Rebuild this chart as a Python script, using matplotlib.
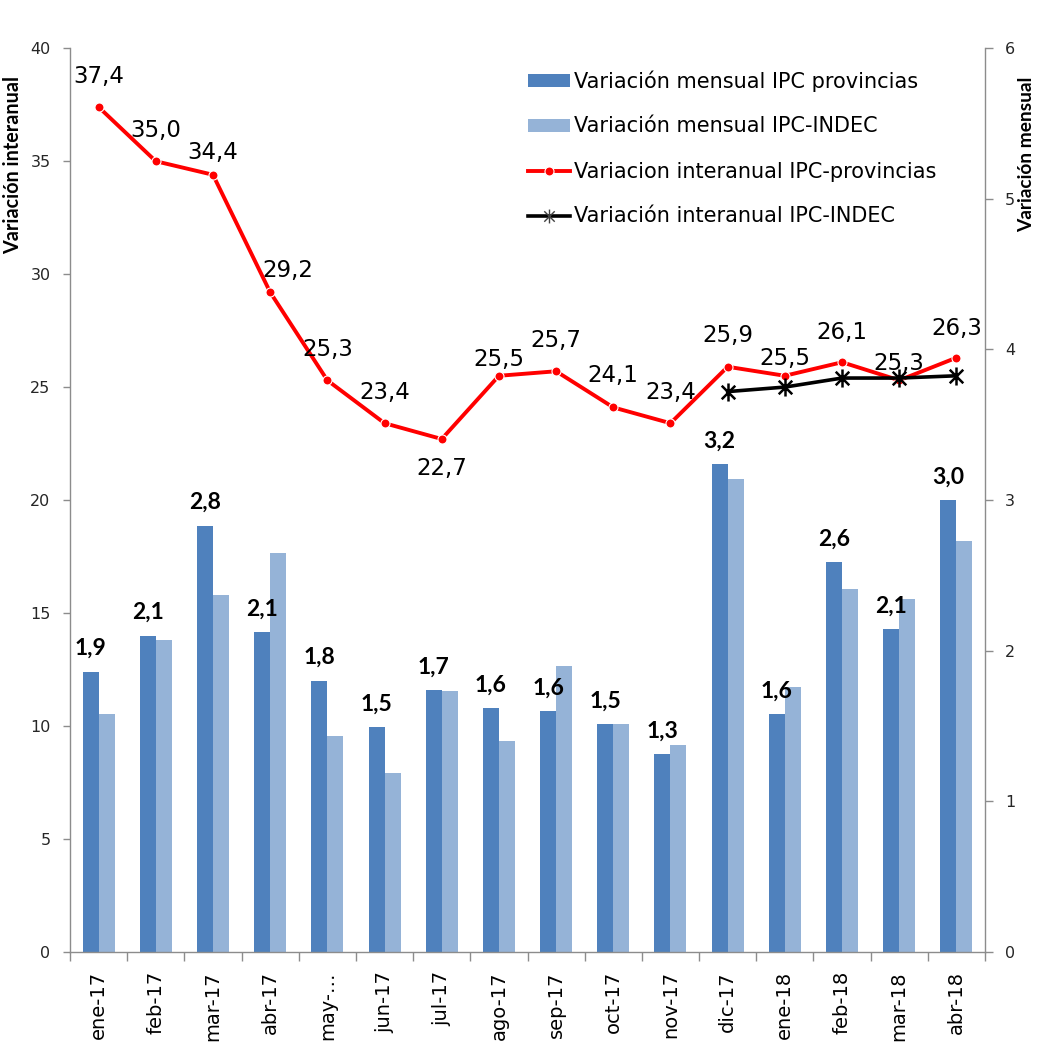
import matplotlib
matplotlib.use("Agg")
import matplotlib.pyplot as plt
from matplotlib.path import Path
from matplotlib.lines import Line2D
from matplotlib.patches import Patch
import numpy as np

plt.rcParams['font.family'] = ['DejaVu Sans']

# --- data -------------------------------------------------------------
months = ["ene-17", "feb-17", "mar-17", "abr-17", "may-…", "jun-17", "jul-17",
          "ago-17", "sep-17", "oct-17", "nov-17", "dic-17", "ene-18", "feb-18",
          "mar-18", "abr-18"]

# monthly variation (right axis, %)
mensual_prov = [1.86, 2.10, 2.83, 2.12, 1.80, 1.49, 1.74, 1.62, 1.60, 1.51,
                1.31, 3.24, 1.58, 2.59, 2.14, 3.00]
mensual_indec = [1.58, 2.07, 2.37, 2.65, 1.43, 1.19, 1.73, 1.40, 1.90, 1.51,
                 1.37, 3.14, 1.76, 2.41, 2.34, 2.73]

# year-on-year variation (left axis, %)
interanual_prov = [37.4, 35.0, 34.4, 29.2, 25.3, 23.4, 22.7, 25.5, 25.7, 24.1,
                   23.4, 25.9, 25.5, 26.1, 25.3, 26.3]
interanual_indec_months = ["dic-17", "ene-18", "feb-18", "mar-18", "abr-18"]
interanual_indec = [24.8, 25.0, 25.4, 25.4, 25.5]

# label offsets for the year-on-year labels (pixels: dx, dy upward)
label_offsets_px = [(0, 31), (0, 31), (0, 22), (18, 22), (0, 31), (0, 31),
                    (0, -29), (0, 16), (0, 31), (0, 32), (0, 31), (0, 31),
                    (0, 17), (0, 30), (0, 17), (0, 29)]

# --- figure -----------------------------------------------------------
W, H = 1038, 1045
fig = plt.figure(figsize=(W / 100, H / 100), dpi=100)
x0, x1, y0, y1 = 70, 985, 48.3, 951.7
ax = fig.add_axes([x0 / W, 1 - y1 / H, (x1 - x0) / W, (y1 - y0) / H])
ax2 = ax.twinx()
ax.set_zorder(ax2.get_zorder() + 1)
ax.patch.set_visible(False)

x = np.arange(len(months))
px2pt = 0.72

DARK = "#4F81BD"
LIGHT = "#95B3D7"
AXC = "#8C8C8C"
TXT = "#262626"

# bars on the right (monthly) axis
bw = 0.28
ax2.bar(x - bw / 2, mensual_prov, width=bw, color=DARK, edgecolor="none",
        label="Variación mensual IPC provincias")
ax2.bar(x + bw / 2, mensual_indec, width=bw, color=LIGHT, edgecolor="none",
        label="Variación mensual IPC-INDEC")
for xi, v in zip(x, mensual_prov):
    ax2.annotate(f"{v:.1f}".replace(".", ","), (xi - bw / 2, v),
                 xytext=(0, 23 * px2pt), textcoords="offset points",
                 ha="center", va="center", fontfamily="Lato",
                 fontweight="bold", fontsize=16.5, color="black")

# lines on the left (year-on-year) axis
ax.plot(x, interanual_prov, color="#FF0000", lw=2.8, marker="o", ms=6.5,
        mfc="#FF0000", mec="white", mew=0.8, zorder=3)
for xi, v, (dx, dy) in zip(x, interanual_prov, label_offsets_px):
    ax.annotate(f"{v:.1f}".replace(".", ","), (xi, v),
                xytext=(dx * px2pt, dy * px2pt), textcoords="offset points",
                ha="center", va="center", fontsize=16.5, color="black",
                zorder=5)

star = Path([(0, -1), (0, 1), (-0.75, -0.75), (0.75, 0.75),
             (-0.75, 0.75), (0.75, -0.75)],
            [Path.MOVETO, Path.LINETO] * 3)
xi_indec = [months.index(m) for m in interanual_indec_months]
ax.plot(xi_indec, interanual_indec, color="black", lw=2.6, marker=star,
        ms=13, mec="black", mew=1.8, zorder=4)

# axes styling
ax.set_xlim(-0.5, len(months) - 0.5)
ax.set_ylim(0, 40)
ax2.set_ylim(0, 6)
ax.set_yticks(np.arange(0, 41, 5))
ax2.set_yticks(np.arange(0, 7, 1))

for s in ["top", "right"]:
    ax.spines[s].set_visible(False)
for s in ["top", "left", "bottom"]:
    ax2.spines[s].set_visible(False)
for sp in [ax.spines["left"], ax.spines["bottom"], ax2.spines["right"]]:
    sp.set_color(AXC)
    sp.set_linewidth(1.0)

ax.tick_params(axis="y", direction="out", length=5, width=1, color=AXC,
               pad=9, labelsize=11.5, labelcolor=TXT)
ax2.tick_params(axis="y", direction="out", length=5.5, width=1, color=AXC,
                pad=9, labelsize=11.5, labelcolor=TXT)

ax.set_xticks(x)
ax.set_xticklabels(months, rotation=90, fontsize=14, color="black")
ax.tick_params(axis="x", which="major", length=0, pad=14)
ax.set_xticks(np.arange(-0.5, len(months), 1), minor=True)
ax.tick_params(axis="x", which="minor", direction="out", length=6.5, width=1,
               color=AXC)
ax2.tick_params(axis="x", which="both", length=0, labelbottom=False)

# axis titles
fig.text(13 / W, 1 - 165 / H, "Variación interanual", rotation=90,
         ha="center", va="center", fontfamily="Lato", fontweight="bold",
         fontsize=14.2, color="black")
fig.text(1027 / W, 1 - 154 / H, "Variación mensual", rotation=90,
         ha="center", va="center", fontfamily="Lato", fontweight="bold",
         fontsize=13.8, color="black")

# legend
handles = [
    Patch(facecolor=DARK, edgecolor="none"),
    Patch(facecolor=LIGHT, edgecolor="none"),
    Line2D([], [], color="#FF0000", lw=2.8, marker="o", ms=6.5,
           mfc="#FF0000", mec="white", mew=0.8),
    Line2D([], [], color="black", lw=2.6, marker=star, ms=10,
           mec="#404040", mew=1.0),
]
labels = ["Variación mensual IPC provincias", "Variación mensual IPC-INDEC",
          "Variacion interanual IPC-provincias", "Variación interanual IPC-INDEC"]
fig.legend(handles, labels, loc="upper left",
           bbox_to_anchor=(528 / W, 1 - 70 / H), frameon=False,
           fontsize=15, handlelength=2.0, handleheight=0.6,
           handletextpad=0.2, labelspacing=1.2, borderpad=0,
           borderaxespad=0, numpoints=1)

fig.savefig("out.png", dpi=100, facecolor="white")
